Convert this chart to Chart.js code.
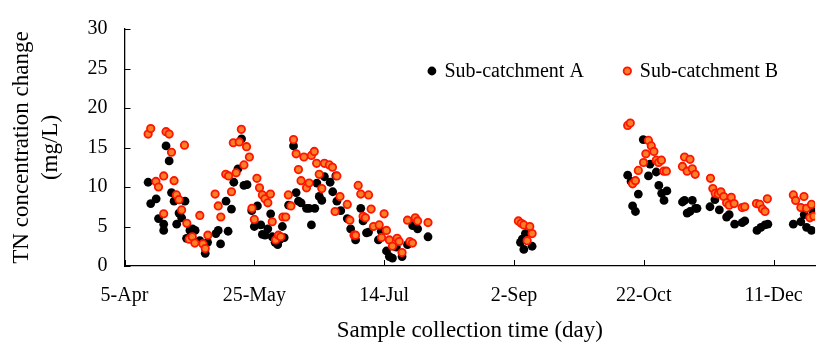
<!DOCTYPE html>
<html>
<head>
<meta charset="utf-8">
<script src="https://cdn.jsdelivr.net/npm/chart.js@4.4.1/dist/chart.umd.min.js"></script>
<style>
  html, body { margin: 0; padding: 0; background: #fff; }
  #wrap { width: 821px; height: 349px; position: relative; }
</style>
</head>
<body>
<div id="wrap"><canvas id="chart1"></canvas></div>
<script>
// x = days after 5-Apr, y = TN concentration change (mg/L)
const tickLabels = ['5-Apr', '25-May', '14-Jul', '2-Sep', '22-Oct', '11-Dec'];
const seriesNames = ['Sub-catchment A', 'Sub-catchment B'];

const pointsA = [
  [9.1, 10.6], [10.1, 7.9], [12.2, 8.5], [13.1, 6.0], [15.1, 5.3], [15.1, 4.5], [16.0, 15.2], [17.2, 13.3],
  [18.1, 9.3], [19.1, 8.2], [20.1, 5.3], [21.0, 6.7], [22.0, 6.1], [23.3, 8.2], [23.9, 3.5], [25.2, 4.5],
  [26.2, 4.7], [27.2, 4.5], [29.0, 3.2], [31.1, 1.6], [32.0, 3.0], [35.2, 4.1], [36.1, 4.5], [37.0, 2.8],
  [39.1, 8.2], [39.9, 4.4], [41.2, 7.2], [42.1, 10.6], [43.7, 12.3], [45.1, 16.1], [46.0, 10.2], [47.2, 10.3],
  [49.0, 7.0], [50.0, 5.0], [51.2, 7.6], [52.5, 5.2], [53.1, 4.0], [54.1, 3.9], [55.2, 4.7], [56.3, 6.6],
  [56.9, 3.7], [58.0, 3.0], [59.0, 2.7], [60.0, 3.4], [60.8, 5.0], [61.5, 3.6], [63.2, 7.7], [65.1, 15.2],
  [66.1, 9.3], [67.0, 8.2], [68.0, 8.0], [70.1, 7.3], [71.1, 7.3], [73.3, 7.3], [72.0, 5.2], [74.1, 10.5],
  [75.0, 8.8], [76.0, 8.3], [77.0, 11.3], [79.2, 10.6], [80.2, 9.4], [81.4, 11.4], [81.8, 8.2], [83.3, 7.0],
  [85.8, 6.0], [87.1, 4.7], [89.0, 3.3], [91.0, 7.3], [91.9, 5.7], [93.2, 4.2], [94.0, 4.3], [97.8, 3.3],
  [98.9, 4.4], [100.9, 1.9], [102.0, 1.2], [103.2, 1.0], [104.7, 2.4], [106.9, 1.2], [109.0, 2.7], [111.0, 5.1],
  [112.9, 4.7], [116.9, 3.7],
  [152.5, 3.0], [153.2, 3.4], [153.8, 2.1], [154.4, 4.1], [157.0, 2.5],
  [193.8, 11.5], [195.1, 10.7], [195.7, 7.6], [196.8, 6.9], [197.9, 9.1], [199.8, 16.0], [201.8, 11.4], [202.4, 12.9],
  [204.8, 11.9], [205.8, 10.2], [206.9, 9.2], [207.8, 8.3], [208.9, 9.5], [214.9, 8.1], [215.7, 8.3], [216.7, 6.7],
  [217.8, 6.9], [218.7, 8.3], [219.9, 7.3], [220.5, 7.3], [225.5, 7.5], [227.4, 8.4], [229.1, 7.1], [231.9, 6.2],
  [232.9, 6.5], [235.0, 5.3], [237.9, 5.5], [238.9, 5.7], [243.6, 4.5], [245.1, 4.9], [246.7, 5.2], [247.8, 5.3],
  [257.6, 5.3], [260.5, 5.6], [261.8, 6.5], [262.7, 4.9], [264.6, 4.5], [265.2, 6.9]
];

const pointsB = [
  [9.1, 16.7], [10.1, 17.4], [12.1, 10.7], [13.1, 10.0], [15.1, 11.4], [15.1, 6.6], [16.0, 17.0], [17.2, 16.7],
  [18.1, 14.4], [19.1, 10.8], [20.0, 9.0], [21.0, 8.4], [22.0, 7.1], [23.1, 15.3], [24.0, 5.4], [24.9, 3.4],
  [26.1, 3.7], [27.1, 2.9], [29.0, 6.4], [30.2, 2.8], [31.1, 2.2], [32.1, 3.9], [34.9, 9.1], [36.1, 7.6],
  [37.1, 6.2], [39.0, 11.6], [40.1, 11.4], [41.2, 9.4], [41.9, 15.6], [43.0, 11.8], [44.2, 15.7], [45.0, 17.3],
  [46.0, 12.8], [47.0, 15.1], [48.1, 13.8], [49.1, 7.3], [50.0, 5.9], [51.0, 11.1], [52.0, 9.9], [53.1, 9.0],
  [54.1, 8.5], [55.2, 8.0], [56.2, 9.1], [56.9, 5.6], [58.2, 3.3], [59.3, 3.9], [60.2, 3.7], [61.0, 6.2],
  [62.1, 6.2], [63.1, 9.0], [64.1, 7.6], [65.1, 16.0], [66.1, 14.2], [67.0, 12.2], [68.0, 10.8], [69.1, 13.8],
  [70.1, 9.9], [71.1, 10.5], [72.0, 14.0], [73.1, 14.5], [74.0, 13.0], [75.0, 11.6], [76.0, 9.8], [77.0, 13.0],
  [78.9, 12.8], [80.1, 12.5], [81.1, 6.9], [81.8, 11.4], [83.0, 8.8], [85.8, 7.8], [86.8, 5.8], [88.4, 3.9],
  [89.0, 3.9], [90.0, 10.2], [91.0, 9.1], [91.9, 6.3], [92.8, 6.1], [94.0, 9.0], [95.0, 7.2], [95.9, 5.0],
  [98.1, 5.2], [99.0, 3.6], [100.0, 6.6], [100.9, 4.5], [102.0, 3.3], [103.2, 2.5], [105.0, 3.5], [105.8, 3.1],
  [106.9, 1.7], [109.0, 5.8], [109.9, 3.1], [110.9, 2.9], [112.0, 6.1], [112.9, 5.7], [116.9, 5.5],
  [151.7, 5.7], [152.8, 5.4], [153.8, 5.2], [155.1, 3.2], [156.1, 5.0], [157.0, 4.1],
  [193.8, 17.8], [194.8, 18.1], [195.7, 10.4], [196.8, 10.8], [197.9, 12.1], [199.9, 13.1], [200.8, 14.2], [201.8, 15.9],
  [202.9, 15.2], [203.9, 14.5], [204.8, 13.4], [205.7, 13.1], [206.8, 13.4], [207.7, 12.0], [208.7, 12.0], [214.9, 12.6],
  [215.7, 13.8], [216.7, 12.0], [217.8, 13.5], [218.7, 12.3], [219.8, 11.6], [225.7, 11.1], [226.6, 9.8], [227.5, 9.2],
  [228.7, 9.1], [229.7, 9.4], [230.8, 8.8], [231.9, 8.0], [232.9, 7.7], [233.7, 8.7], [234.8, 7.9], [237.9, 7.4],
  [238.9, 7.5], [243.4, 7.9], [244.7, 7.8], [245.7, 7.2], [246.7, 6.9], [247.6, 8.5], [257.6, 9.0], [258.5, 8.3],
  [260.5, 7.4], [261.7, 8.8], [262.7, 7.3], [264.0, 6.1], [264.6, 7.8], [265.5, 6.3]
];

const serif = "'Liberation Serif', 'Times New Roman', serif";
Chart.defaults.font.family = serif;
Chart.defaults.color = '#000';

// tick marks drawn inside the plot, like the original
const insideTicks = {
  id: 'insideTicks',
  afterDraw(chart) {
    const { ctx, chartArea, scales: { x, y } } = chart;
    ctx.save();
    ctx.strokeStyle = '#000';
    ctx.lineWidth = 1;
    x.ticks.forEach(t => {
      const px = Math.round(x.getPixelForValue(t.value)) + 0.5;
      ctx.beginPath();
      ctx.moveTo(px, chartArea.bottom);
      ctx.lineTo(px, chartArea.bottom - 6);
      ctx.stroke();
    });
    y.ticks.forEach(t => {
      const py = Math.round(y.getPixelForValue(t.value)) + 0.5;
      ctx.beginPath();
      ctx.moveTo(chartArea.left, py);
      ctx.lineTo(chartArea.left + 6, py);
      ctx.stroke();
    });
    ctx.restore();
  }
};

// legend inside the plot, top right, one row
const innerLegend = {
  id: 'innerLegend',
  afterDatasetsDraw(chart) {
    const { ctx, chartArea } = chart;
    const gap = 39;
    ctx.save();
    ctx.font = '20px ' + serif;
    ctx.textBaseline = 'middle';
    const sets = chart.data.datasets;
    const widths = sets.map(ds => 17 + ctx.measureText(ds.label).width);
    let x = chartArea.right - 37 - widths.reduce((a, b) => a + b, 0) - gap * (sets.length - 1);
    const y = chartArea.top + 42;
    sets.forEach((ds, i) => {
      ctx.beginPath();
      ctx.arc(x + 4.5, y, ds.pointRadius, 0, Math.PI * 2);
      ctx.fillStyle = ds.backgroundColor;
      ctx.fill();
      if (ds.borderWidth) {
        ctx.lineWidth = ds.borderWidth;
        ctx.strokeStyle = ds.borderColor;
        ctx.stroke();
      }
      ctx.fillStyle = '#000';
      ctx.fillText(ds.label, x + 17, y + 1);
      x += widths[i] + gap;
    });
    ctx.restore();
  }
};

const chart1 = new Chart(document.getElementById('chart1'), {
  type: 'scatter',
  data: {
    datasets: [{
      label: seriesNames[0],
      data: pointsA.map(p => ({ x: p[0], y: p[1] })),
      backgroundColor: '#000000',
      borderColor: '#000000',
      borderWidth: 0,
      pointRadius: 4.4,
      order: 1
    }, {
      label: seriesNames[1],
      data: pointsB.map(p => ({ x: p[0], y: p[1] })),
      backgroundColor: 'rgb(250,128,40)',
      borderColor: 'rgb(255,20,0)',
      borderWidth: 1.8,
      pointRadius: 3.7,
      order: 0
    }]
  },
  options: {
    responsive: true,
    maintainAspectRatio: false,
    animation: false,
    layout: { padding: { left: 0, right: 0, top: 24, bottom: 2 } },
    plugins: {
      tooltip: { enabled: false },
      legend: { display: false }
    },
    scales: {
      x: {
        type: 'linear',
        min: 0,
        max: 266,
        grid: { display: false, drawTicks: false },
        border: { display: true, color: '#000', width: 1.3 },
        afterFit: s => { s.height = 81; },
        ticks: {
          stepSize: 50,
          includeBounds: false,
          padding: 18,
          maxRotation: 0,
          color: '#000',
          font: { size: 20, family: serif },
          callback: v => tickLabels[v / 50]
        },
        title: {
          display: true,
          text: 'Sample collection time (day)',
          color: '#000',
          font: { size: 23, family: serif },
          padding: { top: 9, bottom: 2 }
        }
      },
      y: {
        min: 0,
        max: 30,
        grid: { display: false, drawTicks: false },
        border: { display: true, color: '#000', width: 1.3 },
        ticks: {
          stepSize: 5,
          padding: 17,
          color: '#000',
          font: { size: 20, family: serif }
        },
        title: {
          display: true,
          text: ['TN concentration change', '(mg/L)'],
          color: '#000',
          font: { size: 23, family: serif, lineHeight: 1.25 },
          padding: { top: 8, bottom: 5 }
        }
      }
    }
  },
  plugins: [insideTicks, innerLegend]
});
</script>
</body>
</html>
